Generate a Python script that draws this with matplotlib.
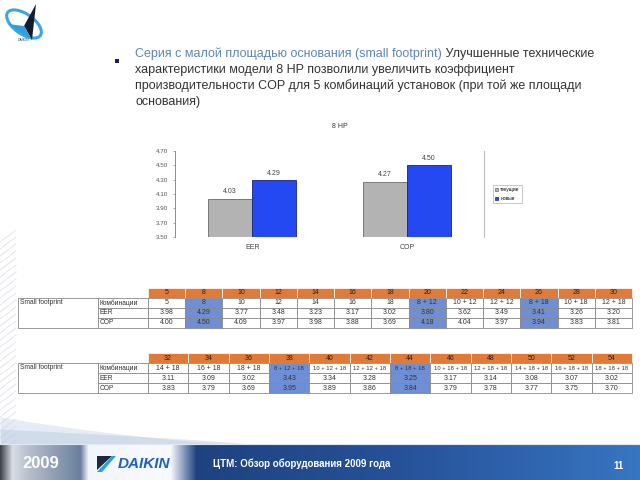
import numpy as np
import matplotlib.pyplot as plt
from matplotlib.patches import Rectangle, Polygon, Ellipse, Patch

plt.rcParams['font.family'] = ['Liberation Sans', 'DejaVu Sans']

# bar chart data
chart_title = "8 HP"
categories = ["EER", "COP"]
series_names = ["текущие", "новые"]
current_vals = [4.03, 4.27]
new_vals = [4.29, 4.50]
y_ticks = [3.50, 3.70, 3.90, 4.10, 4.30, 4.50, 4.70]

# table 1
t1_hp = ["5", "8", "10", "12", "14", "16", "18", "20", "22", "24", "26", "28", "30"]
t1_combo = ["5", "8", "10", "12", "14", "16", "18", "8 + 12", "10 + 12", "12 + 12",
            "8 + 18", "10 + 18", "12 + 18"]
t1_eer = [3.98, 4.29, 3.77, 3.48, 3.23, 3.17, 3.02, 3.80, 3.62, 3.49, 3.41, 3.26, 3.20]
t1_cop = [4.00, 4.50, 4.09, 3.97, 3.98, 3.88, 3.69, 4.18, 4.04, 3.97, 3.94, 3.83, 3.81]
t1_marked = ["8", "20", "26"]

# table 2
t2_hp = ["32", "34", "36", "38", "40", "42", "44", "46", "48", "50", "52", "54"]
t2_combo = ["14 + 18", "16 + 18", "18 + 18", "8 + 12 + 18", "10 + 12 + 18", "12 + 12 + 18",
            "8 + 18 + 18", "10 + 18 + 18", "12 + 18 + 18", "14 + 18 + 18", "16 + 18 + 18",
            "18 + 18 + 18"]
t2_eer = [3.11, 3.09, 3.02, 3.43, 3.34, 3.28, 3.25, 3.17, 3.14, 3.08, 3.07, 3.02]
t2_cop = [3.83, 3.79, 3.69, 3.95, 3.89, 3.86, 3.84, 3.79, 3.78, 3.77, 3.75, 3.70]
t2_marked = ["38", "44"]

bullet_head = "Серия с малой площадью основания (small footprint)"
bullet_rest = [" Улучшенные технические",
               "характеристики модели 8 HP позволили увеличить коэффициент",
               "производительности COP для 5 комбинаций установок (при той же площади",
               "основания)"]
footer_year = "2009"
footer_text = "ЦТМ: Обзор оборудования 2009 года"
page_no = "11"

ORANGE = "#e07a36"
MARK = "#6e8fd6"
GRID = "#8a8a8a"

fig = plt.figure(figsize=(6.4, 4.8), dpi=100)
bg = fig.add_axes([0, 0, 1, 1])
bg.set_xlim(0, 640)
bg.set_ylim(480, 0)
bg.axis("off")

# left edge stripes
for y in np.arange(230, 450, 7):
    bg.plot([0, 16], [y + 12, y], color="#e6e9ef", lw=0.8, zorder=0)

# swoosh above footer
xs = np.linspace(0, 260, 60)
bg.fill_between(xs, 445 - 28 * (1 - xs / 260) ** 1.5, 445, color="#c9d6e8", alpha=0.45, lw=0)
bg.fill_between(xs, 445 - 16 * (1 - xs / 260) ** 0.8, 445, color="#aabfdc", alpha=0.35, lw=0)

# footer band
stops_x = [0, 12, 28, 80, 88, 170, 196, 400, 640]
stops_c = np.array([(0.25, 0.27, 0.30), (0.85, 0.87, 0.90), (0.72, 0.75, 0.80),
                    (0.42, 0.50, 0.62), (0.95, 0.96, 0.98), (0.97, 0.98, 1.0),
                    (0.12, 0.26, 0.50), (0.15, 0.32, 0.60), (0.22, 0.46, 0.76)])
gx = np.arange(640)
grad = np.stack([np.interp(gx, stops_x, stops_c[:, k]) for k in range(3)], axis=-1)
bg.imshow(grad[np.newaxis, :, :], extent=(0, 640, 480, 444), aspect="auto", zorder=1)
bg.plot([0, 640], [444, 444], color="#dfe8f4", lw=0.8, zorder=2)
bg.text(22, 464, footer_year, color="white", fontsize=12, fontweight="bold", va="center", zorder=3)
bg.add_patch(Polygon([(97, 456), (112, 456), (97, 470)], fc="#1b2a40", zorder=3))
bg.add_patch(Polygon([(112, 456), (116, 456), (102, 472), (97, 472)], fc="#2aa0e0", zorder=3))
bg.text(118, 464, "DAIKIN", color="#1a63c0", fontsize=11, fontweight="bold", style="italic",
        va="center", zorder=3)
bg.text(213, 464, footer_text, color="white", fontsize=7, fontweight="bold", va="center", zorder=3)
bg.text(624, 466, page_no, color="white", fontsize=7, fontweight="bold", ha="right", va="center",
        zorder=3)

# top-left logo
bg.add_patch(Ellipse((24, 24), 40, 20, angle=35, fill=False, ec="#3aa7de", lw=2.2))
bg.add_patch(Polygon([(36, 4), (24, 26), (32, 40)], fc="#141c2c"))
bg.add_patch(Polygon([(24, 26), (8, 24), (32, 40)], fc="#2f9fe0"))
bg.text(24, 40, "DAIKIN", fontsize=2.5, color="#1a4c8c", ha="center", va="center")

# bullet text
bg.add_patch(Rectangle((114.5, 58.5), 4, 4, fc="#1b1f5c", ec="none"))
t = bg.text(135, 54, bullet_head, color="#5c86b6", fontsize=9, va="center")
fig.canvas.draw()
bb = t.get_window_extent(renderer=fig.canvas.get_renderer())
x_end = bg.transData.inverted().transform((bb.x1, bb.y0))[0]
bg.text(x_end, 54, bullet_rest[0], color="#333333", fontsize=9, va="center")
for k, line in enumerate(bullet_rest[1:]):
    bg.text(135, 70 + 16 * k, line, color="#333333", fontsize=9, va="center")


def draw_table(top, hp, combos, eer, cop, marked):
    n = len(hp)
    x0, x1 = 148, 632
    cw = (x1 - x0) / n
    rh = 10
    for i, h in enumerate(hp):
        x = x0 + i * cw
        bg.add_patch(Rectangle((x, top), cw, rh, fc=ORANGE, ec="white", lw=0.5))
        bg.text(x + cw / 2, top + rh / 2, h, fontsize=5, color="#222222", ha="center", va="center")
    rows = [("Комбинации", combos), ("EER", ["%.2f" % v for v in eer]),
            ("COP", ["%.2f" % v for v in cop])]
    bg.add_patch(Rectangle((18, top + rh), 80, 3 * rh, fc="white", ec=GRID, lw=0.6))
    bg.text(20, top + rh + 4.5, "Small footprint", fontsize=4.8, color="#333333", va="center")
    for r, (name, vals) in enumerate(rows):
        y = top + rh * (r + 1)
        bg.add_patch(Rectangle((98, y), x0 - 98, rh, fc="white", ec=GRID, lw=0.6))
        bg.text(100, y + rh / 2, name, fontsize=4.8, color="#333333", va="center")
        for i, v in enumerate(vals):
            x = x0 + i * cw
            fc = MARK if hp[i] in marked else "white"
            bg.add_patch(Rectangle((x, y), cw, rh, fc=fc, ec=GRID, lw=0.6))
            fs = 5 if len(v) < 9 else 4.2
            bg.text(x + cw / 2, y + rh / 2, v, fontsize=fs, color="#333333", ha="center",
                    va="center")


draw_table(288, t1_hp, t1_combo, t1_eer, t1_cop, t1_marked)
draw_table(353, t2_hp, t2_combo, t2_eer, t2_cop, t2_marked)

# bar chart
ax = fig.add_axes([175 / 640, (480 - 237) / 480, 309 / 640, 86 / 480])
x = np.arange(len(categories))
w = 0.285
ax.bar(x - w / 2, current_vals, w, color="#b3b3b3", edgecolor="#6a6a6a", lw=0.6)
ax.bar(x + w / 2, new_vals, w, color="#2449f2", edgecolor="#1a237e", lw=0.6)
for xi, v in zip(x - w / 2, current_vals):
    ax.text(xi, v + 0.05, "%.2f" % v, fontsize=5, color="#444444", ha="center", va="bottom")
for xi, v in zip(x + w / 2, new_vals):
    ax.text(xi, v + 0.05, "%.2f" % v, fontsize=5, color="#444444", ha="center", va="bottom")
ax.set_xlim(-0.5, 1.5)
ax.set_ylim(3.5, 4.7)
ax.set_yticks(y_ticks)
ax.set_yticklabels(["%.2f" % v for v in y_ticks])
ax.set_xticks(x)
ax.set_xticklabels(categories)
ax.tick_params(axis="y", labelsize=4.5, labelcolor="#555555", length=1.5, width=0.5, color="#888888")
ax.tick_params(axis="x", labelsize=5, labelcolor="#444444", length=0, pad=5)
for s in ["top", "bottom"]:
    ax.spines[s].set_visible(False)
ax.spines["left"].set_color("#8c8c8c")
ax.spines["left"].set_linewidth(0.7)
ax.spines["right"].set_color("#bdbdbd")
ax.spines["right"].set_linewidth(0.8)
ax.patch.set_alpha(0)
handles = [Patch(fc="#b3b3b3", ec="#6a6a6a", lw=0.5), Patch(fc="#2449f2", ec="#1a237e", lw=0.5)]
leg = ax.legend(handles, series_names, loc="center left", bbox_to_anchor=(1.02, 0.5),
                fontsize=3.5, handlelength=0.7, handleheight=0.7, handletextpad=0.4,
                borderpad=0.5, labelspacing=0.8, fancybox=False, framealpha=1)
leg.get_frame().set_edgecolor("#b0b0b0")
leg.get_frame().set_linewidth(0.5)
fig.text(340 / 640, 1 - 127 / 480, chart_title, fontsize=5, color="#333333", ha="center",
         va="center")

fig.savefig("out.png", dpi=100)
